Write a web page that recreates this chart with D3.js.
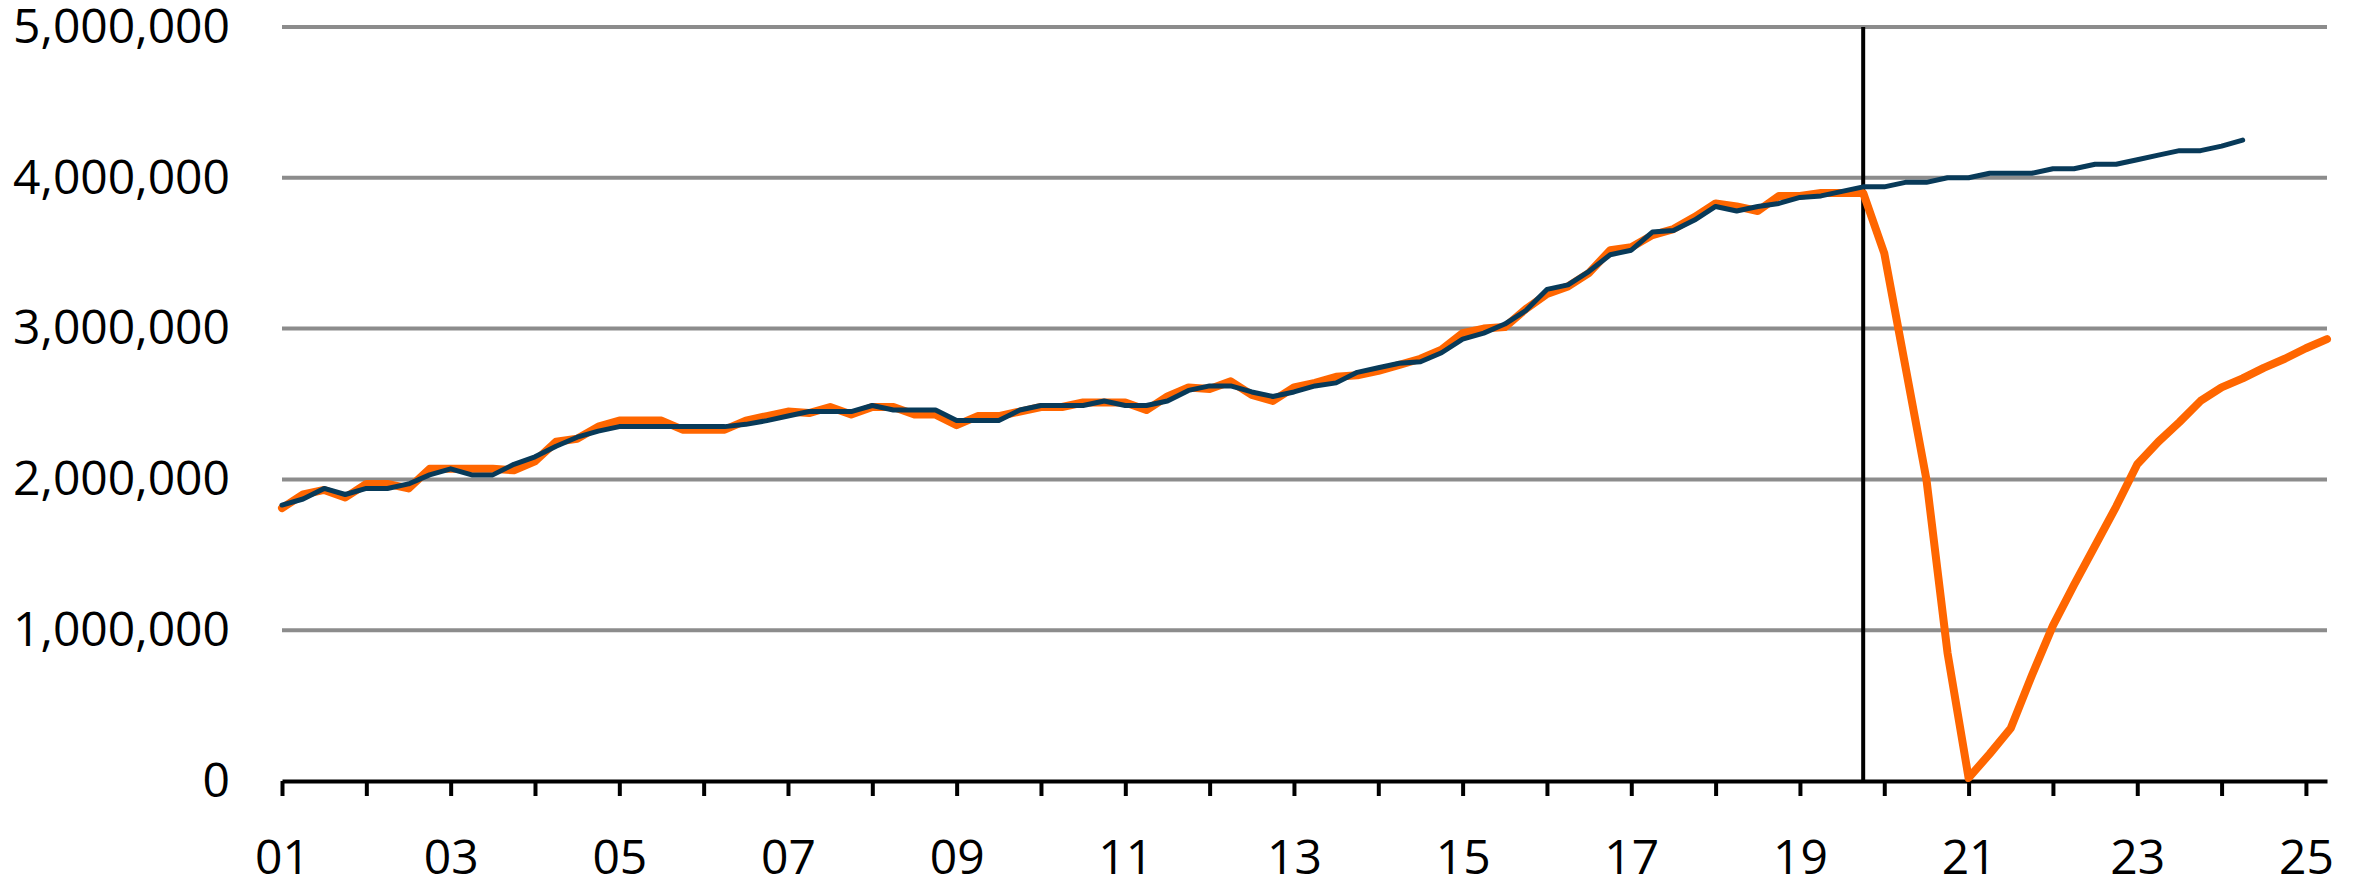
<!DOCTYPE html>
<html>
<head>
<meta charset="utf-8">
<script src="https://cdn.jsdelivr.net/npm/d3@7"></script>
<style>
  body { margin: 0; background: #fff; }
  text { font-family: "Open Sans", "Noto Sans", sans-serif; }
</style>
</head>
<body>
<div id="chart-area"></div>
<script>

// quarterly values, thousands, starting 2001 Q1
const startYear = 2001;

const actual = [
    1810, 1900, 1930, 1880,
    1970, 1970, 1940, 2070,
    2070, 2070, 2070, 2060,
    2120, 2250, 2270, 2350,
    2390, 2390, 2390, 2330,
    2330, 2330, 2390, 2420,
    2450, 2440, 2480, 2430,
    2480, 2480, 2430, 2430,
    2360, 2420, 2420, 2450,
    2480, 2480, 2510, 2510,
    2510, 2460, 2550, 2610,
    2600, 2650, 2560, 2520,
    2610, 2640, 2680, 2690,
    2720, 2760, 2800, 2860,
    2970, 3000, 3010, 3130,
    3230, 3280, 3370, 3520,
    3540, 3620, 3660, 3740,
    3830, 3810, 3780, 3880,
    3880, 3900, 3900, 3900,
    3500, 2750, 2000, 850,
    20, 180, 350, 700,
    1030, 1300, 1560, 1820,
    2100, 2250, 2380, 2520,
    2610, 2670, 2740, 2800,
    2870, 2930
];

const trend = [
    1830, 1870, 1940, 1900,
    1940, 1940, 1970, 2030,
    2070, 2030, 2030, 2100,
    2150, 2220, 2280, 2320,
    2350, 2350, 2350, 2350,
    2350, 2350, 2365, 2390,
    2420, 2450, 2450, 2450,
    2490, 2460, 2460, 2460,
    2390, 2390, 2390, 2460,
    2490, 2490, 2490, 2520,
    2490, 2490, 2520, 2590,
    2620, 2620, 2580, 2550,
    2580, 2620, 2640, 2710,
    2740, 2770, 2780, 2840,
    2930, 2970, 3030, 3120,
    3260, 3290, 3380, 3490,
    3520, 3640, 3650, 3720,
    3810, 3780, 3810, 3830,
    3870, 3880, 3910, 3940,
    3940, 3970, 3970, 4000,
    4000, 4030, 4030, 4030,
    4060, 4060, 4090, 4090,
    4120, 4150, 4180, 4180,
    4210, 4250
];

const yTicks = [0, 1000000, 2000000, 3000000, 4000000, 5000000];
const xYears = d3.range(2001, 2026);
const markerYear = 2019.75;

let width = 2369;
let height = 886;
const svg = d3.select("#chart-area")
    .append("svg")
    .attr("width", width)
    .attr("height", height);

const margin = {top: 27, right: 42, bottom: 105, left: 282};
width = width - margin.left - margin.right;
height = height - margin.top - margin.bottom;

const g = svg.append("g")
    .attr("transform", "translate(" + margin.left + "," + margin.top + ")");

const x = d3.scaleLinear()
    .domain([2001, 2025.25])
    .range([0, width]);

const y = d3.scaleLinear()
    .domain([0, 5000000])
    .range([height, 0]);

// gridlines
g.append("g")
    .selectAll("line")
    .data(yTicks.filter(d => d > 0))
    .enter()
    .append("line")
    .attr("x1", 0)
    .attr("x2", width)
    .attr("y1", d => y(d))
    .attr("y2", d => y(d))
    .attr("stroke", "#8c8c8c")
    .attr("stroke-width", 4);

// y axis labels
const yAxisCall = d3.axisLeft(y)
    .tickValues(yTicks)
    .tickSize(0)
    .tickPadding(52)
    .tickFormat(d3.format(","));

const gy = g.append("g").call(yAxisCall);
gy.select(".domain").remove();
gy.selectAll("text")
    .attr("font-size", 48)
    .attr("fill", "#000");

// x axis
const xAxisCall = d3.axisBottom(x)
    .tickValues(xYears)
    .tickSize(15)
    .tickSizeOuter(0)
    .tickPadding(44)
    .tickFormat(d => (d % 2 === 1) ? String(d % 100).padStart(2, "0") : "");

const gx = g.append("g")
    .attr("transform", "translate(0," + height + ")")
    .call(xAxisCall);
gx.select(".domain")
    .attr("stroke", "#000")
    .attr("stroke-width", 4);
gx.selectAll(".tick line")
    .attr("stroke", "#000")
    .attr("stroke-width", 4);
gx.selectAll("text")
    .attr("font-size", 48)
    .attr("fill", "#000");

// marker line
g.append("line")
    .attr("x1", x(markerYear))
    .attr("x2", x(markerYear))
    .attr("y1", y(5000000))
    .attr("y2", height)
    .attr("stroke", "#000")
    .attr("stroke-width", 4);

const line = d3.line()
    .x((d, i) => x(startYear + i / 4))
    .y(d => y(d * 1000));

g.append("path")
    .datum(actual)
    .attr("d", line)
    .attr("fill", "none")
    .attr("stroke", "#ff6600")
    .attr("stroke-width", 8)
    .attr("stroke-linejoin", "round")
    .attr("stroke-linecap", "round");

g.append("path")
    .datum(trend)
    .attr("d", line)
    .attr("fill", "none")
    .attr("stroke", "#083a59")
    .attr("stroke-width", 5)
    .attr("stroke-linejoin", "round")
    .attr("stroke-linecap", "round");

</script>
</body>
</html>
